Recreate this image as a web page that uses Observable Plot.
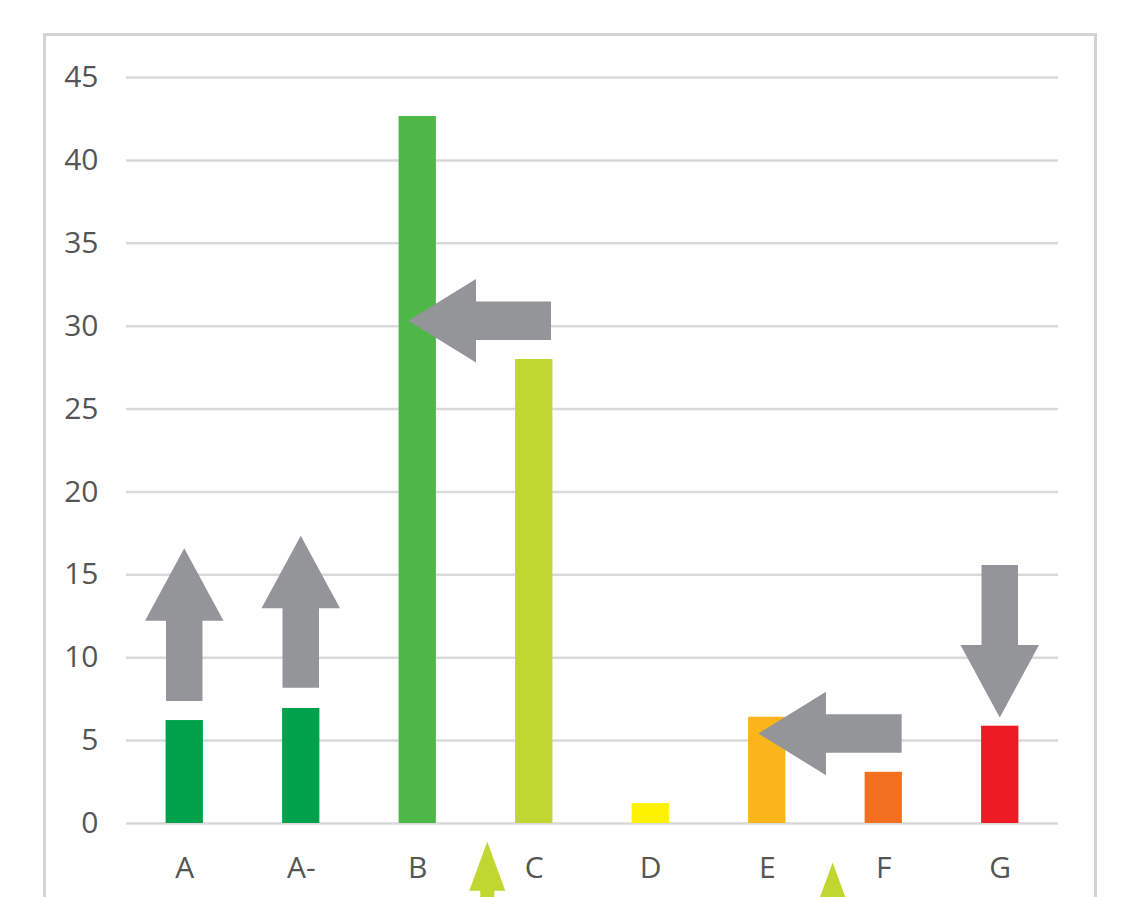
<!DOCTYPE html>
<html>
<head>
<meta charset="utf-8">
<script src="https://cdn.jsdelivr.net/npm/d3@7"></script>
<script src="https://cdn.jsdelivr.net/npm/@observablehq/plot@0.6"></script>
<style>
  html, body { margin: 0; padding: 0; background: #fff; overflow: hidden; }
  #wrap { position: relative; width: 1126px; height: 897px; }
  #frame { position: absolute; left: 43px; top: 33px; width: 1054px; height: 900px;
           border: 3px solid #d4d4d4; box-sizing: border-box; pointer-events: none; }
  #chart { position: absolute; left: 0; top: 0; }
</style>
</head>
<body>
<div id="wrap"><div id="chart"></div><div id="frame"></div></div>
<script>
// Categories and values
const categories = ["A", "A-", "B", "C", "D", "E", "F", "G"];
const values = [6.21, 6.94, 42.65, 27.99, 1.2, 6.41, 3.09, 5.87];
const colors = ["#00a14b", "#00a14b", "#4db848", "#bfd730", "#fff200", "#fbb41a", "#f37021", "#ed1c24"];
const yTicks = [0, 5, 10, 15, 20, 25, 30, 35, 40, 45];

// Arrows: tail (x1,y1) -> tip (x2,y2), x in category index units, y in value units
const grayArrows = [
  {x1: 0, y1: 7.36, x2: 0, y2: 16.57},
  {x1: 1, y1: 8.16, x2: 1, y2: 17.33},
  {x1: 3.148, y1: 30.3, x2: 1.923, y2: 30.3},
  {x1: 6.158, y1: 5.4, x2: 4.927, y2: 5.4},
  {x1: 7, y1: 15.56, x2: 7, y2: 6.36}
];
const greenArrows = [
  {x1: 2.601, y1: -5, x2: 2.601, y2: -1.13},
  {x1: 5.566, y1: -6, x2: 5.566, y2: -2.39}
];

const bars = categories.map((c, i) => ({i, category: c, value: values[i], color: colors[i]}));
const barHalf = 0.16;

function arrowPath(x1, y1, x2, y2, shaft, headW, headL) {
  const dx = x2 - x1, dy = y2 - y1;
  const L = Math.hypot(dx, dy);
  const ux = dx / L, uy = dy / L;
  const nx = -uy, ny = ux;
  const bx = x2 - ux * headL, by = y2 - uy * headL;
  const s = shaft / 2, h = headW / 2;
  const pts = [
    [x1 + nx * s, y1 + ny * s],
    [bx + nx * s, by + ny * s],
    [bx + nx * h, by + ny * h],
    [x2, y2],
    [bx - nx * h, by - ny * h],
    [bx - nx * s, by - ny * s],
    [x1 - nx * s, y1 - ny * s]
  ];
  return "M" + pts.map(p => p.join(",")).join("L") + "Z";
}

function arrowMark(list, fill, sizeFn) {
  return (index, scales) => {
    const g = d3.create("svg:g");
    for (const a of list) {
      const X1 = scales.x(a.x1), Y1 = scales.y(a.y1), X2 = scales.x(a.x2), Y2 = scales.y(a.y2);
      const vertical = Math.abs(X2 - X1) < Math.abs(Y2 - Y1);
      const [shaft, headW, headL] = sizeFn(vertical);
      g.append("path").attr("d", arrowPath(X1, Y1, X2, Y2, shaft, headW, headL)).attr("fill", fill);
    }
    return g.node();
  };
}

const chart = Plot.plot({
  width: 1126,
  height: 897,
  marginLeft: 126,
  marginRight: 68,
  marginTop: 77,
  marginBottom: 74,
  style: {fontFamily: "'Open Sans', sans-serif", background: "transparent", overflow: "visible"},
  x: {type: "linear", domain: [-0.5, 7.5], axis: null},
  y: {domain: [0, 45], axis: null},
  color: {type: "identity"},
  marks: [
    Plot.ruleY(yTicks, {stroke: "#d9d9d9", strokeWidth: 2.5}),
    Plot.rect(bars, {x1: d => d.i - barHalf, x2: d => d.i + barHalf, y1: 0, y2: "value", fill: "color"}),
    arrowMark(grayArrows, "#939598", v => v ? [36.5, 78.5, 72.5] : [38.4, 83.4, 67.7]),
    arrowMark(greenArrows, "#bfd730", () => [14, 36, 49]),
    Plot.axisY(yTicks, {tickSize: 0, tickPadding: 28, fontSize: 30, fill: "#555555", tickFormat: d => String(d), label: null}),
    Plot.axisX(categories.map((c, i) => i), {tickSize: 0, tickPadding: 33, fontSize: 30, fill: "#555555", tickFormat: i => categories[i], label: null})
  ]
});
document.getElementById("chart").appendChild(chart);
</script>
</body>
</html>
